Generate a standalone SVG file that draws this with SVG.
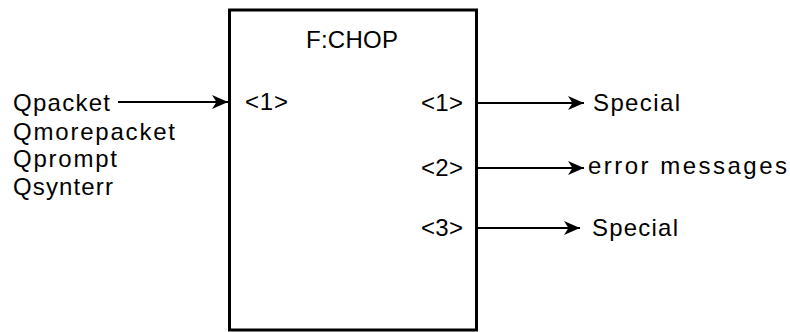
<svg xmlns="http://www.w3.org/2000/svg" width="790" height="332" viewBox="0 0 790 332">
<style>
text{font-family:"Liberation Sans",Arial,sans-serif;font-size:24px;fill:#000}
.ln{stroke:#000;stroke-width:1.8;fill:none}
</style>
<defs>
<marker id="ah" markerUnits="userSpaceOnUse" markerWidth="18" markerHeight="16" refX="16" refY="8" orient="auto">
<path d="M0,1 L16,8 L0,15 L4.5,8 z" fill="#000"/>
</marker>
</defs>
<rect width="790" height="332" fill="#fff"/>
<g id="chop">
<rect x="229.5" y="10" width="247" height="320" fill="none" stroke="#000" stroke-width="3"/>
<text x="306" y="48" textLength="92" lengthAdjust="spacing">F:CHOP</text>
<text x="245" y="110" textLength="43" lengthAdjust="spacing">&lt;1&gt;</text>
<text x="421" y="111" textLength="42" lengthAdjust="spacing">&lt;1&gt;</text>
<text x="421" y="176" textLength="42" lengthAdjust="spacing">&lt;2&gt;</text>
<text x="421" y="236" textLength="42" lengthAdjust="spacing">&lt;3&gt;</text>
</g>
<g id="inputs">
<text x="13" y="111" textLength="97" lengthAdjust="spacing">Qpacket</text>
<text x="13" y="140" textLength="162" lengthAdjust="spacing">Qmorepacket</text>
<text x="13" y="167" textLength="104" lengthAdjust="spacing">Qprompt</text>
<text x="13" y="195" textLength="100" lengthAdjust="spacing">Qsynterr</text>
</g>
<g id="out1"><text x="593" y="111" textLength="87" lengthAdjust="spacing">Special</text></g>
<g id="out2"><text x="588" y="174" textLength="199" lengthAdjust="spacing">error messages</text></g>
<g id="out3"><text x="592" y="236" textLength="86" lengthAdjust="spacing">Special</text></g>
<g id="connectors">
<line class="ln" x1="118" y1="102" x2="228" y2="102" marker-end="url(#ah)"/>
<line class="ln" x1="478" y1="103" x2="584" y2="103" marker-end="url(#ah)"/>
<line class="ln" x1="478" y1="168" x2="584" y2="168" marker-end="url(#ah)"/>
<line class="ln" x1="478" y1="228" x2="580" y2="228" marker-end="url(#ah)"/>
</g>
</svg>
